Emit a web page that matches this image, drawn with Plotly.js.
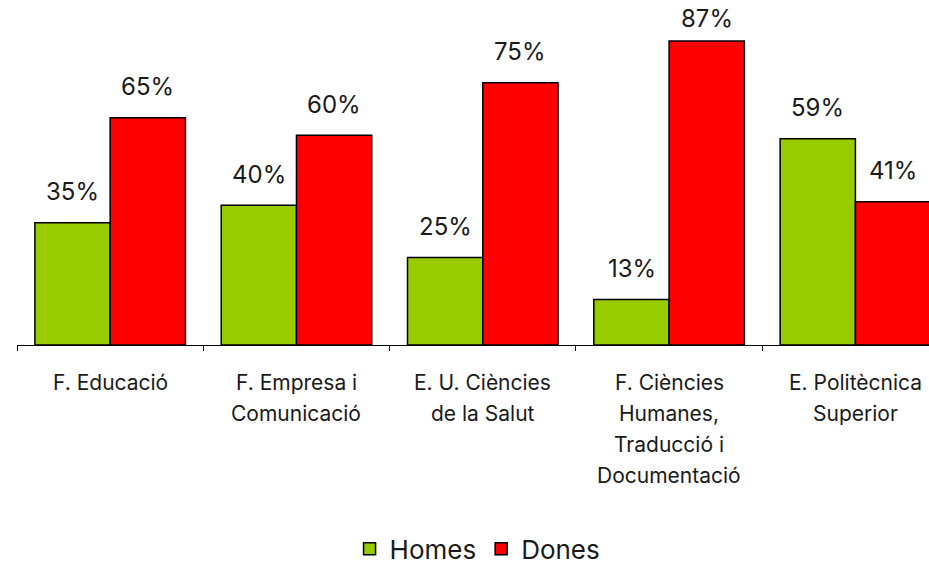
<!DOCTYPE html>
<html>
<head>
<meta charset="utf-8">
<script src="https://cdn.plot.ly/plotly-3.0.1.min.js"></script>
<style>
  html, body { margin: 0; padding: 0; background: #fff; }
  #chart { width: 929px; height: 564px; }
</style>
</head>
<body>
<div id="chart"></div>
<script>
// category labels, one array of lines per faculty
var categories = ["F. Educació", "F. Empresa i Comunicació", "E. U. Ciències de la Salut",
                  "F. Ciències Humanes, Traducció i Documentació", "E. Politècnica Superior"];
var labelLines = [
  ["F. Educació"],
  ["F. Empresa i", "Comunicació"],
  ["E. U. Ciències", "de la Salut"],
  ["F. Ciències", "Humanes,", "Traducció i", "Documentació"],
  ["E. Politècnica", "Superior"]
];
var homes = [35, 40, 25, 13, 59];
var dones = [65, 60, 75, 87, 41];

var font = "Inter, Roboto, sans-serif";
var yMax = 98.7;
var pxPerUnit = 345 / yMax;

var data = [
  {
    type: "bar", name: "Homes", x: categories, y: homes,
    marker: { color: "#99cc00", line: { color: "#000", width: 1.5 } },
    hoverinfo: "none"
  },
  {
    type: "bar", name: "Dones", x: categories, y: dones,
    marker: { color: "#ff0000", line: { color: "#000", width: 1.5 } },
    hoverinfo: "none"
  }
];

// keep value labels inside the top of the chart
function labelShift(v) {
  var room = (yMax - v) * pxPerUnit;
  return Math.min(31, room - 18);
}

var annotations = [];
for (var i = 0; i < categories.length; i++) {
  annotations.push({ x: i, y: homes[i], xref: "x", yref: "y", text: homes[i] + "%",
    showarrow: false, xshift: -37.5, yshift: labelShift(homes[i]), yanchor: "middle",
    font: { family: font, size: 24, color: "#1a1a1a" } });
  annotations.push({ x: i, y: dones[i], xref: "x", yref: "y", text: dones[i] + "%",
    showarrow: false, xshift: 37.5, yshift: labelShift(dones[i]), yanchor: "middle",
    font: { family: font, size: 24, color: "#1a1a1a" } });
}
// category labels, line by line
for (var i = 0; i < labelLines.length; i++) {
  for (var k = 0; k < labelLines[i].length; k++) {
    annotations.push({ x: i, y: 0, xref: "x", yref: "paper", text: labelLines[i][k],
      showarrow: false, yanchor: "middle", yshift: -37 - 31 * k,
      font: { family: font, size: 21, color: "#1a1a1a" } });
  }
}

var layout = {
  width: 929, height: 564,
  margin: { l: 17, r: 0, t: 0, b: 219, autoexpand: false },
  paper_bgcolor: "#fff", plot_bgcolor: "#fff",
  barmode: "group", bargap: 0.192, bargroupgap: 0,
  showlegend: true,
  legend: {
    orientation: "h", x: 0.505, xanchor: "center", y: -0.591, yanchor: "middle",
    font: { family: font, size: 26, color: "#1a1a1a" }, itemwidth: 30
  },
  xaxis: {
    type: "category", range: [-0.5, 4.395],
    showline: true, linecolor: "#000", linewidth: 1,
    ticks: "outside", tickson: "boundaries", ticklen: 5, tickcolor: "#000",
    showticklabels: false, showgrid: false, zeroline: false
  },
  yaxis: {
    range: [0, yMax], visible: false, showgrid: false, zeroline: false
  },
  annotations: annotations
};

Plotly.newPlot("chart", data, layout, { displayModeBar: false, staticPlot: true });
</script>
</body>
</html>
